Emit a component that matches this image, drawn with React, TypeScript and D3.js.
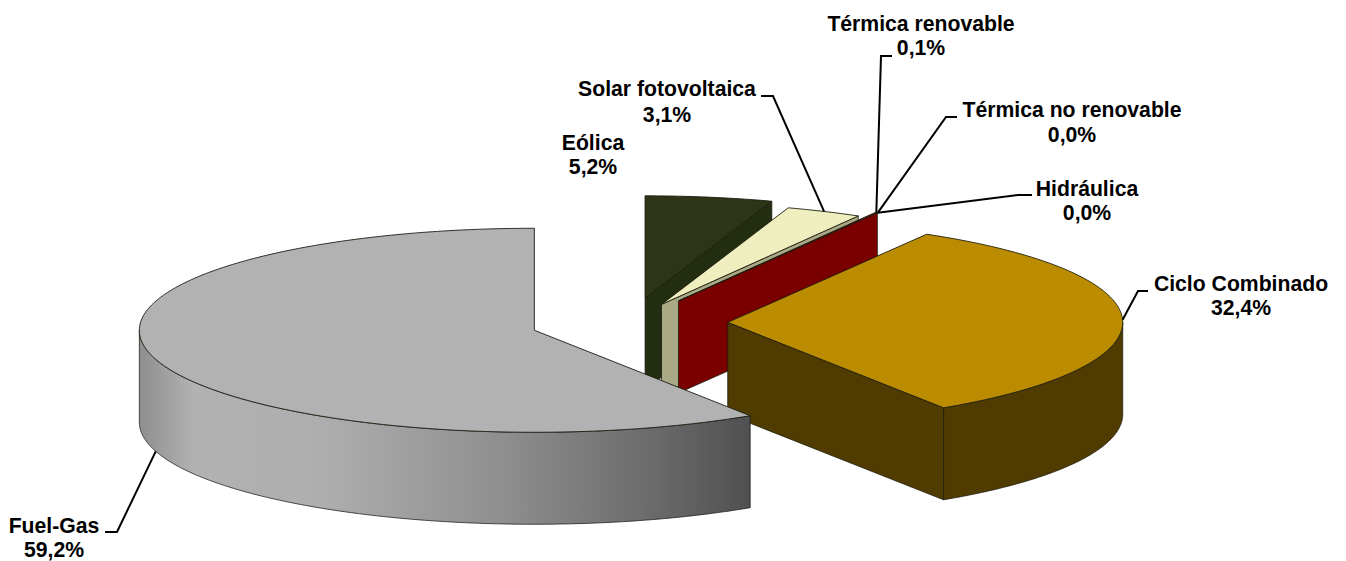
import React from "react";
import * as d3 from "d3";

const categories = ["Eólica", "Solar fotovoltaica", "Térmica renovable", "Térmica no renovable", "Hidráulica", "Ciclo Combinado", "Fuel-Gas"];
const shares = [5.2, 3.1, 0.1, 0.0, 0.0, 32.4, 59.2];
const explosions = [0.25, 0.2, 0.25, 0.25, 0.25, 0.25, 0.25];
const topColors = ["#2c3516", "#eeeebf", "#7a0000", "#7a0000", "#7a0000", "#bc8c00", "#b2b2b2"];
const sideColors = ["#232e10", "#a9a985", "#7a0000", "#7a0000", "#7a0000", "#503c00", "url(#fuelSide)"];

const WIDTH = 1346, HEIGHT = 561;
const CX = 629, CY = 323, RX = 395, RY = 102, DEPTH = 92;

// label centre x, first baseline, second baseline, leader elbows (may be empty)
const labelLayout: [number, number, number, [number, number][]][] = [
  [593, 150, 174, []],
  [667, 96, 122, [[773, 96], [761, 96]]],
  [921, 31, 55, [[881, 56], [892, 56]]],
  [1072, 117, 142, [[946, 117], [957, 117]]],
  [1087, 196, 220, [[1018, 195], [1032, 195]]],
  [1241, 291, 315, [[1138, 291], [1148, 291]]],
  [54, 533, 557, [[117, 532], [105, 532]]],
];

const pct = d3.formatLocale({ decimal: ",", thousands: ".", grouping: [3], currency: ["", ""] }).format(".1f");
const line = d3.line();

const arcs = d3.pie<number>().sort(null).value((d) => d).startAngle(0).endAngle(2 * Math.PI)(shares);

function arcPoints(c: [number, number], a: number, b: number): [number, number][] {
  const n = Math.max(2, Math.ceil(Math.abs(b - a) / 0.01));
  return d3.range(n + 1).map((i) => {
    const t = a + ((b - a) * i) / n;
    return [c[0] + RX * Math.sin(t), c[1] - RY * Math.cos(t)] as [number, number];
  });
}

const slices = arcs.map((arc, i) => {
  const mid = (arc.startAngle + arc.endAngle) / 2;
  const e = explosions[i];
  const c: [number, number] = [CX + e * RX * Math.sin(mid), CY - e * RY * Math.cos(mid)];
  return { i, a: arc.startAngle, b: arc.endAngle, mid, c };
});

const drawOrder = [0, 1, 2, 5, 6];
const down = (p: [number, number]): [number, number] => [p[0], p[1] + DEPTH];

export default function App() {
  return (
    <svg width={WIDTH} height={HEIGHT} style={{ position: "absolute", left: 0, top: 0, background: "#fff" }}>
      <defs>
        <linearGradient id="fuelSide" gradientUnits="userSpaceOnUse" x1={139} x2={750} y1={0} y2={0}>
          <stop offset="0" stopColor="#8e8e8e" />
          <stop offset="0.09" stopColor="#b2b2b2" />
          <stop offset="0.3" stopColor="#aeaeae" />
          <stop offset="0.6" stopColor="#8e8e8e" />
          <stop offset="0.85" stopColor="#696969" />
          <stop offset="1" stopColor="#505050" />
        </linearGradient>
      </defs>
      {drawOrder.map((i) => {
        const s = slices[i];
        const outer = arcPoints(s.c, s.a, s.b);
        // front-facing part of the outer wall: the lower half of the ellipse
        const wa = Math.max(s.a, Math.PI / 2), wb = Math.min(s.b, (3 * Math.PI) / 2);
        const wall = wb > wa ? arcPoints(s.c, wa, wb) : [];
        const endP = outer[outer.length - 1];
        const showEnd = s.b > 0.001 && s.b < Math.PI;
        const edge = "#1c1c10";
        return (
          <g key={categories[i]} strokeLinejoin="round">
            {wall.length > 0 && (
              <path d={line([...wall, ...wall.map(down).reverse()]) + "Z"} fill={sideColors[i]} stroke={edge} strokeWidth={0.9} strokeOpacity={0.85} />
            )}
            {showEnd && (
              <path d={line([s.c, endP, down(endP), down(s.c)]) + "Z"} fill={sideColors[i]} stroke={edge} strokeWidth={0.9} strokeOpacity={0.85} />
            )}
            <path d={line([s.c, ...outer]) + "Z"} fill={topColors[i]} stroke={edge} strokeWidth={1} strokeOpacity={0.9} />
          </g>
        );
      })}
      {slices.map((s) => {
        const [lx, b1, b2, elbows] = labelLayout[s.i];
        const p: [number, number] = [s.c[0] + RX * Math.sin(s.mid), s.c[1] - RY * Math.cos(s.mid)];
        const anchor = s.mid > Math.PI / 2 && s.mid < (3 * Math.PI) / 2 ? down(p) : p;
        return (
          <g key={categories[s.i]}>
            {elbows.length > 0 && <path d={line([anchor, ...elbows]) as string} fill="none" stroke="#000" strokeWidth={2} />}
            <g fontFamily="'Liberation Sans', Arial, sans-serif" fontWeight={700} fontSize={21.2} textAnchor="middle" fill="#000">
              <text x={lx} y={b1}>{categories[s.i]}</text>
              <text x={lx} y={b2}>{pct(shares[s.i])}%</text>
            </g>
          </g>
        );
      })}
    </svg>
  );
}
